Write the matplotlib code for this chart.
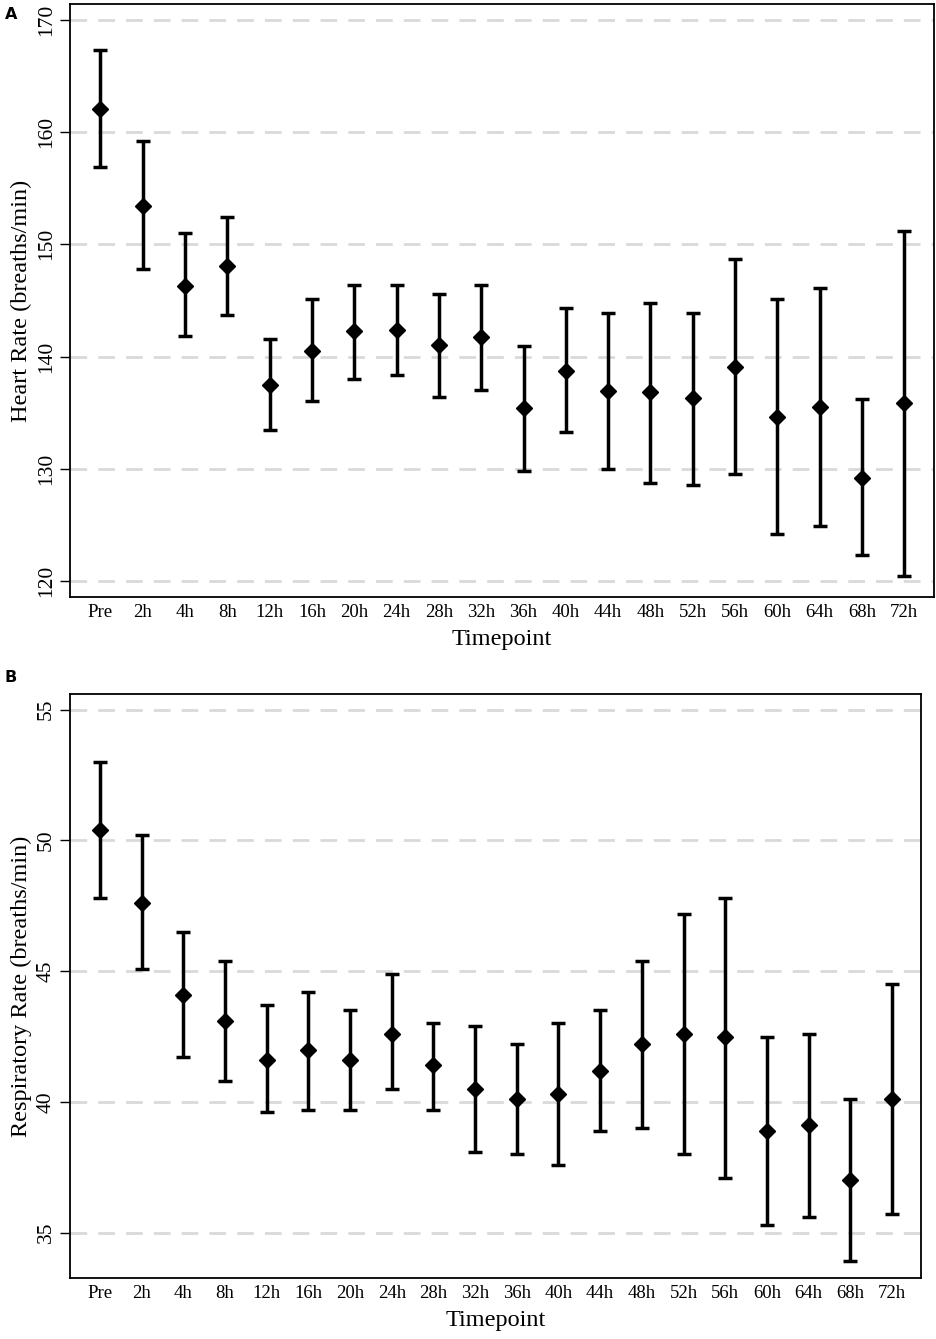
import matplotlib
matplotlib.use("Agg")
import matplotlib.pyplot as plt

timepoints = ["Pre", "2h", "4h", "8h", "12h", "16h", "20h", "24h", "28h", "32h",
              "36h", "40h", "44h", "48h", "52h", "56h", "60h", "64h", "68h", "72h"]

# Panel A: heart rate
hr_mean = [162.0, 153.4, 146.3, 148.1, 137.5, 140.5, 142.3, 142.4, 141.0, 141.7,
           135.4, 138.7, 136.9, 136.8, 136.3, 139.1, 134.6, 135.5, 129.2, 135.9]
hr_upper = [167.3, 159.2, 151.0, 152.4, 141.6, 145.1, 146.4, 146.4, 145.6, 146.4,
            140.9, 144.3, 143.9, 144.8, 143.9, 148.7, 145.1, 146.1, 136.2, 151.2]
hr_lower = [156.9, 147.8, 141.8, 143.7, 133.5, 136.0, 138.0, 138.4, 136.4, 137.0,
            129.8, 133.3, 130.0, 128.7, 128.6, 129.5, 124.2, 124.9, 122.3, 120.5]

# Panel B: respiratory rate
rr_mean = [50.4, 47.6, 44.1, 43.1, 41.6, 42.0, 41.6, 42.6, 41.4, 40.5,
           40.1, 40.3, 41.2, 42.2, 42.6, 42.5, 38.9, 39.1, 37.0, 40.1]
rr_upper = [53.0, 50.2, 46.5, 45.4, 43.7, 44.2, 43.5, 44.9, 43.0, 42.9,
            42.2, 43.0, 43.5, 45.4, 47.2, 47.8, 42.5, 42.6, 40.1, 44.5]
rr_lower = [47.8, 45.1, 41.7, 40.8, 39.6, 39.7, 39.7, 40.5, 39.7, 38.1,
            38.0, 37.6, 38.9, 39.0, 38.0, 37.1, 35.3, 35.6, 33.9, 35.7]

plt.rcParams['font.family'] = ['Liberation Serif', 'DejaVu Serif']

fig = plt.figure(figsize=(9.37, 13.39), dpi=100)
ax_a = fig.add_axes([0.0747, 0.5542, 0.922, 0.4425])
ax_b = fig.add_axes([0.0747, 0.0456, 0.9083, 0.4361])


def draw_panel(ax, mean, upper, lower, yticks, ylim, ylabel):
    x = list(range(len(timepoints)))
    yerr = [[m - lo for m, lo in zip(mean, lower)],
            [up - m for m, up in zip(mean, upper)]]
    for t in yticks:
        ax.axhline(t, color='#d9d9d9', lw=2, ls=(0, (6, 4)), zorder=0)
    ax.errorbar(x, mean, yerr=yerr, fmt='D', color='black', ms=8.5,
                elinewidth=2.5, capsize=5, capthick=2.5, zorder=3)
    ax.set_xlim(-0.72, 19.7)
    ax.set_ylim(*ylim)
    ax.set_yticks(yticks)
    ax.set_yticklabels([str(t) for t in yticks], rotation=90, va='center',
                       fontsize=15.5)
    ax.set_xticks(x)
    ax.set_xticklabels(timepoints, fontsize=13.5)
    ax.tick_params(axis='x', length=0, pad=5)
    ax.tick_params(axis='y', length=7, width=1, pad=3)
    ax.set_xlabel("Timepoint", fontsize=17.5, labelpad=6)
    ax.set_ylabel(ylabel, fontsize=17.5, labelpad=4)
    for s in ax.spines.values():
        s.set_linewidth(1.3)


draw_panel(ax_a, hr_mean, hr_upper, hr_lower, [120, 130, 140, 150, 160, 170],
           (118.6, 171.35), "Heart Rate (breaths/min)")
draw_panel(ax_b, rr_mean, rr_upper, rr_lower, [35, 40, 45, 50, 55],
           (33.27, 55.6), "Respiratory Rate (breaths/min)")

fig.text(0.005, 0.9945, "A", fontsize=11.5, fontweight='bold',
         family='DejaVu Sans', va='top')
fig.text(0.005, 0.4995, "B", fontsize=11.5, fontweight='bold',
         family='DejaVu Sans', va='top')

fig.savefig("out.png", dpi=100)
